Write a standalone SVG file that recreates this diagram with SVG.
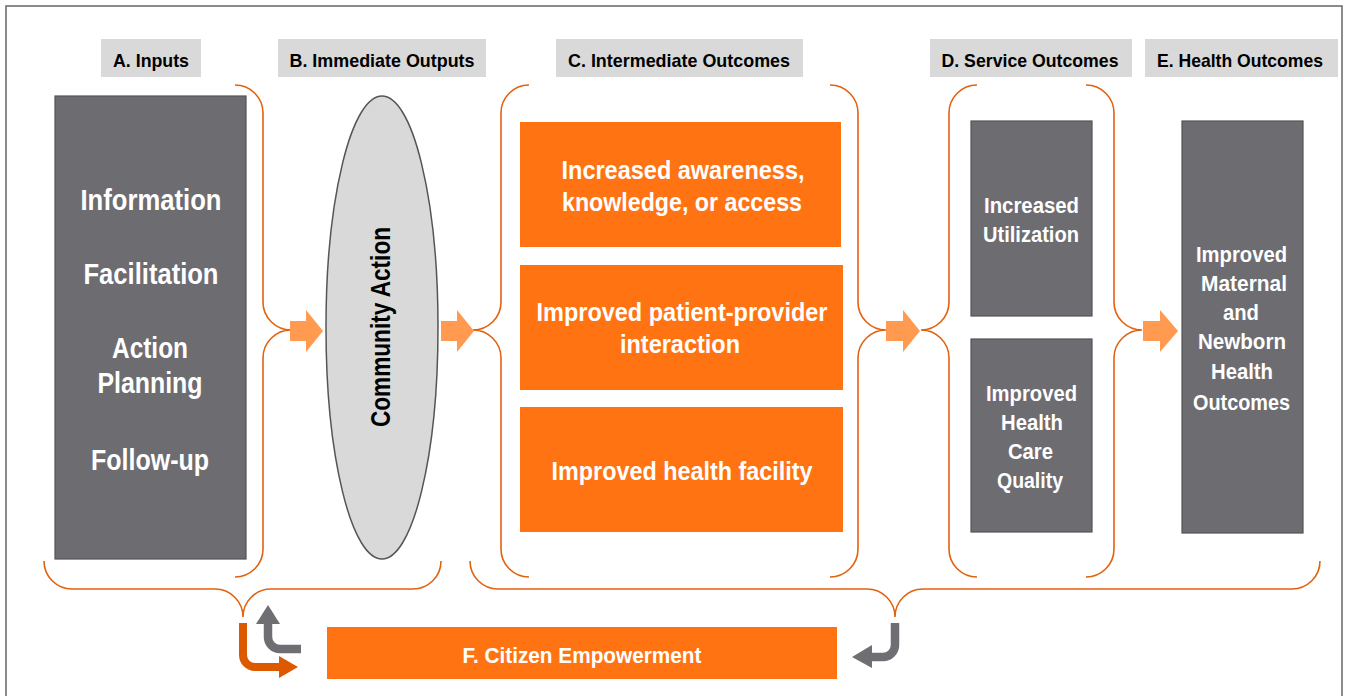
<svg xmlns="http://www.w3.org/2000/svg" width="1351" height="696" viewBox="0 0 1351 696">
<defs>
<style>
text{font-family:"Liberation Sans Narrow","Liberation Sans",Arial,sans-serif;font-weight:bold;text-anchor:middle}
.hdr{fill:#d9d9d9}
.ht{font-size:19px;fill:#000}
.gbox{fill:#6d6c71;stroke:#545458;stroke-width:1.2}
.obox{fill:#ff7313}
.wt{fill:#fff}
.brace{fill:none;stroke:#e2620f;stroke-width:1.6}
.arr{fill:#ff9a50}
</style>
</defs>
<rect x="6" y="6" width="1336" height="700" fill="#fff" stroke="#666" stroke-width="1.5"/>

<g id="headers">
<rect class="hdr" x="101" y="39" width="100" height="38"/>
<text class="ht" x="151" y="67" textLength="76" lengthAdjust="spacingAndGlyphs">A. Inputs</text>
<rect class="hdr" x="278" y="39" width="208" height="38"/>
<text class="ht" x="382" y="67" textLength="185" lengthAdjust="spacingAndGlyphs">B. Immediate Outputs</text>
<rect class="hdr" x="556" y="39" width="247" height="38"/>
<text class="ht" x="679" y="67" textLength="222" lengthAdjust="spacingAndGlyphs">C. Intermediate Outcomes</text>
<rect class="hdr" x="930" y="39" width="202" height="38"/>
<text class="ht" x="1030" y="67" textLength="177" lengthAdjust="spacingAndGlyphs">D. Service Outcomes</text>
<rect class="hdr" x="1145" y="39" width="193" height="38"/>
<text class="ht" x="1240" y="67" textLength="166" lengthAdjust="spacingAndGlyphs">E. Health Outcomes</text>
</g>

<g id="inputs">
<rect class="gbox" x="55" y="96" width="191" height="463"/>
<g class="wt" style="font-size:30px">
<text x="151" y="210" textLength="141" lengthAdjust="spacingAndGlyphs">Information</text>
<text x="151" y="284" textLength="135" lengthAdjust="spacingAndGlyphs">Facilitation</text>
<text x="150" y="358" textLength="76" lengthAdjust="spacingAndGlyphs">Action</text>
<text x="150" y="393" textLength="105" lengthAdjust="spacingAndGlyphs">Planning</text>
<text x="150" y="470" textLength="118" lengthAdjust="spacingAndGlyphs">Follow-up</text>
</g>
</g>

<g id="community-action">
<ellipse cx="382" cy="327.5" rx="56" ry="231.5" fill="#d9d9d9" stroke="#555" stroke-width="1.5"/>
<text transform="translate(382,327) rotate(-90)" x="0" y="8" style="font-size:27px" fill="#000" textLength="200" lengthAdjust="spacingAndGlyphs">Community Action</text>
</g>

<g id="intermediate">
<rect class="obox" x="520" y="122" width="321" height="125"/>
<rect class="obox" x="520" y="265" width="323" height="125"/>
<rect class="obox" x="520" y="407" width="323" height="125"/>
<g class="wt" style="font-size:25px">
<text x="683" y="179" textLength="243" lengthAdjust="spacingAndGlyphs">Increased awareness,</text>
<text x="682" y="211" textLength="240" lengthAdjust="spacingAndGlyphs">knowledge, or access</text>
<text x="682" y="321" textLength="291" lengthAdjust="spacingAndGlyphs">Improved patient-provider</text>
<text x="680" y="353" textLength="120" lengthAdjust="spacingAndGlyphs">interaction</text>
<text x="682" y="480" textLength="261" lengthAdjust="spacingAndGlyphs">Improved health facility</text>
</g>
</g>

<g id="service">
<rect class="gbox" x="971" y="121" width="121" height="195"/>
<rect class="gbox" x="971" y="339" width="121" height="193"/>
<g class="wt" style="font-size:22.5px">
<text x="1031.5" y="213" textLength="95" lengthAdjust="spacingAndGlyphs">Increased</text>
<text x="1031" y="242" textLength="96" lengthAdjust="spacingAndGlyphs">Utilization</text>
<text x="1031.5" y="401" textLength="91" lengthAdjust="spacingAndGlyphs">Improved</text>
<text x="1032" y="430" textLength="62" lengthAdjust="spacingAndGlyphs">Health</text>
<text x="1030.5" y="459" textLength="45" lengthAdjust="spacingAndGlyphs">Care</text>
<text x="1030" y="488" textLength="66" lengthAdjust="spacingAndGlyphs">Quality</text>
</g>
</g>

<g id="health">
<rect class="gbox" x="1182" y="121" width="121" height="412"/>
<g class="wt" style="font-size:22.5px">
<text x="1241.5" y="262" textLength="91" lengthAdjust="spacingAndGlyphs">Improved</text>
<text x="1244" y="291" textLength="86" lengthAdjust="spacingAndGlyphs">Maternal</text>
<text x="1241" y="320" textLength="36" lengthAdjust="spacingAndGlyphs">and</text>
<text x="1242" y="349" textLength="88" lengthAdjust="spacingAndGlyphs">Newborn</text>
<text x="1242" y="379" textLength="62" lengthAdjust="spacingAndGlyphs">Health</text>
<text x="1241.5" y="410" textLength="97" lengthAdjust="spacingAndGlyphs">Outcomes</text>
</g>
</g>

<g id="empowerment">
<rect class="obox" x="327" y="627" width="510" height="52"/>
<text class="wt" x="582" y="663" style="font-size:22px" textLength="239" lengthAdjust="spacingAndGlyphs">F. Citizen Empowerment</text>
</g>

<g id="connectors">
<path class="brace" d="M235,85 A28,28 0 0 1 263,113 L263,302 A28,28 0 0 0 291,330 A28,28 0 0 0 263,358 L263,549 A28,28 0 0 1 235,577"/>
<path class="brace" d="M529,85 A28,28 0 0 0 501,113 L501,302 A28,28 0 0 1 473,330 A28,28 0 0 1 501,358 L501,549 A28,28 0 0 0 529,577"/>
<path class="brace" d="M830,85 A28,28 0 0 1 858,113 L858,302 A28,28 0 0 0 886,330 A28,28 0 0 0 858,358 L858,549 A28,28 0 0 1 830,577"/>
<path class="brace" d="M977,85 A28,28 0 0 0 949,113 L949,302 A28,28 0 0 1 921,330 A28,28 0 0 1 949,358 L949,549 A28,28 0 0 0 977,577"/>
<path class="brace" d="M1086,85 A28,28 0 0 1 1114,113 L1114,302 A28,28 0 0 0 1142,330 A28,28 0 0 0 1114,358 L1114,549 A28,28 0 0 1 1086,577"/>
<path class="brace" d="M44,561 A28,28 0 0 0 72,589 L215,589 A28,28 0 0 1 243,617 A28,28 0 0 1 271,589 L413,589 A28,28 0 0 0 441,561"/>
<path class="brace" d="M470,561 A28,28 0 0 0 498,589 L867,589 A28,28 0 0 1 895,617 A28,28 0 0 1 923,589 L1292,589 A28,28 0 0 0 1320,561"/>

<polygon class="arr" points="290,321 306,321 306,310 323,331 306,352 306,341 290,341"/>
<polygon class="arr" points="441,321 457,321 457,310 474,331 457,352 457,341 441,341"/>
<polygon class="arr" points="886,321 903,321 903,310 920,331 903,352 903,341 886,341"/>
<polygon class="arr" points="1143,321 1160,321 1160,310 1178,331 1160,352 1160,341 1143,341"/>

<path d="M243,623 L243,655 A12,12 0 0 0 255,667 L281,667" fill="none" stroke="#dd5900" stroke-width="8"/>
<polygon points="279,656 298,667 279,678" fill="#dd5900"/>

<path d="M268,622 L268,637 A12,12 0 0 0 280,649 L301,649" fill="none" stroke="#6f6e73" stroke-width="8.5"/>
<polygon points="256,624 268,605 280,624" fill="#6f6e73"/>

<path d="M895,623 L895,645 A12,12 0 0 1 883,657 L870,657" fill="none" stroke="#6f6e73" stroke-width="8.5"/>
<polygon points="872,645 852,657 872,668" fill="#6f6e73"/>
</g>
</svg>
